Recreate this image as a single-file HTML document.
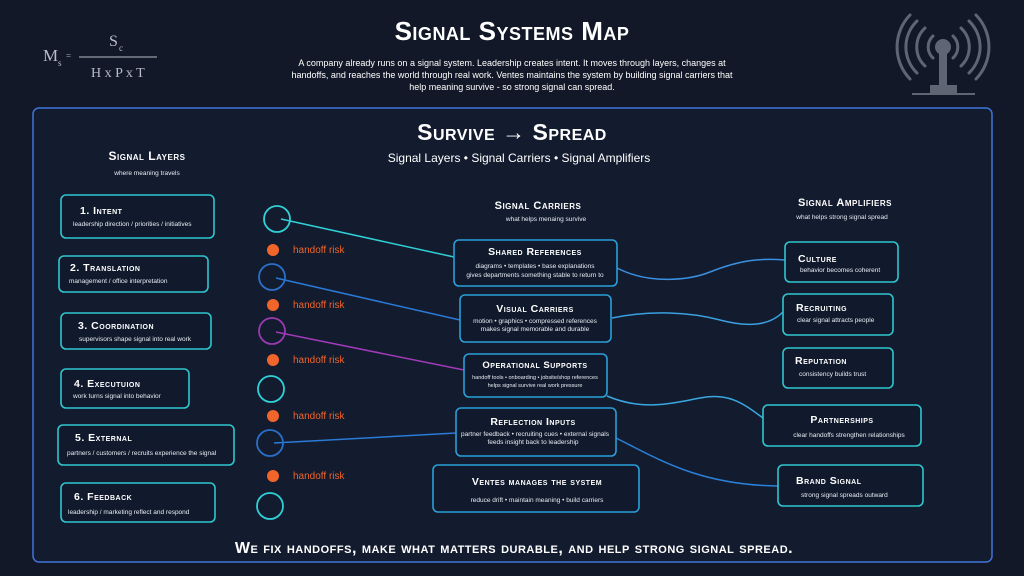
<!DOCTYPE html>
<html><head><meta charset="utf-8"><style>
html,body{margin:0;padding:0;background:#121828;}
svg{display:block}
text{font-family:"Liberation Sans",sans-serif;fill:#fff}
.h{font-weight:bold;font-variant:small-caps;letter-spacing:0.5px}
.s{font-size:6.5px;fill:#e8ecf4}
.box{fill:#111a2c;stroke:#2fc6cf;stroke-width:1.6}
.risk{font-size:10px;fill:#f0652a}
.f{font-family:"Liberation Serif",serif;fill:#b8bcc6}
</style></head><body>
<svg width="1024" height="576" viewBox="0 0 1024 576">
<rect width="1024" height="576" fill="#121828"/>
<!-- formula -->
<text x="43" y="61" font-size="17" class="f" style="font-family:'Liberation Serif',serif">M</text>
<text x="58" y="66" font-size="9" class="f" style="font-family:'Liberation Serif',serif">s</text>
<text x="66" y="59" font-size="9" class="f" style="font-family:'Liberation Serif',serif">=</text>
<text x="109" y="46" font-size="16" class="f" style="font-family:'Liberation Serif',serif">S</text>
<text x="119" y="51" font-size="9" class="f" style="font-family:'Liberation Serif',serif">c</text>
<line x1="79" y1="57" x2="157" y2="57" stroke="#b8bcc6" stroke-width="1"/>
<text x="91" y="77" font-size="14" class="f" style="font-family:'Liberation Serif',serif">H x P x T</text>
<!-- antenna -->
<g stroke="#5f6573" fill="none" stroke-width="3" stroke-linecap="round">
<path d="M933 36 A15 15 0 0 0 933 58"/><path d="M953 36 A15 15 0 0 1 953 58"/>
<path d="M925 28 A26 26 0 0 0 925 66"/><path d="M961 28 A26 26 0 0 1 961 66"/>
<path d="M917 21 A36 36 0 0 0 917 73"/><path d="M969 21 A36 36 0 0 1 969 73"/>
<path d="M910 15 A46 46 0 0 0 910 79"/><path d="M976 15 A46 46 0 0 1 976 79"/>
</g>
<circle cx="943" cy="47" r="8" fill="#5f6573"/>
<rect x="939" y="52" width="8" height="34" fill="#5f6573"/>
<rect x="930" y="85" width="27" height="9" fill="#5f6573"/>
<rect x="912" y="93" width="63" height="2" fill="#5f6573"/>
<!-- title -->
<text x="512" y="40" text-anchor="middle" class="h" font-size="26">Signal Systems Map</text>
<g font-size="9" fill="#fff" text-anchor="middle">
<text x="512" y="66" font-size="9">A company already runs on a signal system.  Leadership creates intent.  It moves through layers, changes at</text>
<text x="512" y="78" font-size="9">handoffs, and reaches the world through real work.  Ventes maintains the system by building signal carriers that</text>
<text x="512" y="90" font-size="9">help meaning survive - so strong signal can spread.</text>
</g>
<!-- panel -->
<rect x="33" y="108" width="959" height="454" rx="6" fill="#131b2e" stroke="#3f74d8" stroke-width="1.5"/>
<text x="512" y="140" text-anchor="middle" class="h" font-size="23">Survive → Spread</text>
<text x="519" y="162" text-anchor="middle" font-size="12" fill="#e8ecf4">Signal Layers • Signal Carriers • Signal Amplifiers</text>
<text x="147" y="160" text-anchor="middle" class="h" font-size="12">Signal Layers</text>
<text x="147" y="175" text-anchor="middle" class="s">where meaning travels</text>
<text x="538" y="209" text-anchor="middle" class="h" font-size="11">Signal Carriers</text>
<text x="546" y="221" text-anchor="middle" class="s">what helps menaing survive</text>
<text x="845" y="206" text-anchor="middle" class="h" font-size="11">Signal Amplifiers</text>
<text x="842" y="219" text-anchor="middle" class="s">what helps strong signal spread</text>
<!-- connectors -->
<g fill="none" stroke-width="1.5">
<line x1="281" y1="219" x2="454" y2="257" stroke="#2fd0d6"/>
<line x1="276" y1="278" x2="460" y2="320" stroke="#2a7ad6"/>
<line x1="276" y1="332" x2="464" y2="370" stroke="#a03ab8"/>
<line x1="274" y1="443" x2="456" y2="433" stroke="#2a7ad6"/>
<path d="M617 268 C650 285,690 280,710 272 C740 260,760 258,785 260" stroke="#3a90e0"/>
<path d="M612 318 C650 310,690 312,720 320 C750 328,770 325,783 312" stroke="#3aa0e0"/>
<path d="M607 396 C640 410,665 405,700 398 C730 392,745 405,763 418" stroke="#3aa8e0"/>
<path d="M616 438 C660 460,700 485,778 486" stroke="#2a80d8"/>
</g>
<!-- circles -->
<g fill="none" stroke-width="1.8">
<circle cx="277" cy="219" r="13" stroke="#2fd0d6"/>
<circle cx="272" cy="277" r="13" stroke="#2a6fc8"/>
<circle cx="272" cy="331" r="13" stroke="#9a3ab0"/>
<circle cx="271" cy="389" r="13" stroke="#2fd0d6"/>
<circle cx="270" cy="443" r="13" stroke="#2a6fc8"/>
<circle cx="270" cy="506" r="13" stroke="#2fd0d6"/>
</g>
<g fill="#f0652a">
<circle cx="273" cy="250" r="6"/><circle cx="273" cy="305" r="6"/><circle cx="273" cy="360" r="6"/><circle cx="273" cy="416" r="6"/><circle cx="273" cy="476" r="6"/>
</g>
<text x="293" y="253" class="risk">handoff risk</text>
<text x="293" y="308" class="risk">handoff risk</text>
<text x="293" y="363" class="risk">handoff risk</text>
<text x="293" y="419" class="risk">handoff risk</text>
<text x="293" y="479" class="risk">handoff risk</text>
<!-- left boxes -->
<rect class="box" x="61" y="195" width="153" height="43" rx="5"/>
<text x="80" y="214" class="h" font-size="10.5">1. Intent</text>
<text x="73" y="226" class="s">leadership direction / priorities / initiatives</text>
<rect class="box" x="59" y="256" width="149" height="36" rx="5"/>
<text x="70" y="271" class="h" font-size="10.5">2. Translation</text>
<text x="69" y="283" class="s">management / office interpretation</text>
<rect class="box" x="61" y="313" width="150" height="36" rx="5"/>
<text x="78" y="329" class="h" font-size="10.5">3. Coordination</text>
<text x="79" y="341" class="s">supervisors shape signal into real work</text>
<rect class="box" x="61" y="369" width="128" height="39" rx="5"/>
<text x="74" y="387" class="h" font-size="10.5">4. Executuion</text>
<text x="73" y="398" class="s">work turns signal into behavior</text>
<rect class="box" x="58" y="425" width="176" height="40" rx="5"/>
<text x="75" y="441" class="h" font-size="10.5">5. External</text>
<text x="67" y="455" class="s">partners / customers / recruits experience the signal</text>
<rect class="box" x="61" y="483" width="154" height="39" rx="5"/>
<text x="74" y="500" class="h" font-size="10.5">6. Feedback</text>
<text x="68" y="514" class="s">leadership / marketing reflect and respond</text>
<!-- middle boxes -->
<rect class="box" x="454" y="240" width="163" height="46" rx="5" style="stroke:#2a9fd8"/>
<text x="535" y="255" text-anchor="middle" class="h" font-size="10.5">Shared References</text>
<text x="535" y="268" text-anchor="middle" class="s">diagrams • templates • base explanations</text>
<text x="535" y="277" text-anchor="middle" class="s">gives departments something stable to return to</text>
<rect class="box" x="460" y="295" width="151" height="47" rx="5" style="stroke:#2a9fd8"/>
<text x="535" y="312" text-anchor="middle" class="h" font-size="10.5">Visual Carriers</text>
<text x="535" y="323" text-anchor="middle" class="s">motion • graphics • compressed references</text>
<text x="535" y="331" text-anchor="middle" class="s">makes signal memorable and durable</text>
<rect class="box" x="464" y="354" width="143" height="43" rx="5" style="stroke:#2a9fd8"/>
<text x="535" y="368" text-anchor="middle" class="h" font-size="9.5">Operational Supports</text>
<text x="535" y="379" text-anchor="middle" class="s" style="font-size:5.5px">handoff tools • onboarding • jobsite/shop references</text>
<text x="535" y="387" text-anchor="middle" class="s" style="font-size:5.5px">helps signal survive real work pressure</text>
<rect class="box" x="456" y="408" width="160" height="48" rx="5" style="stroke:#2a9fd8"/>
<text x="533" y="425" text-anchor="middle" class="h" font-size="10.5">Reflection Inputs</text>
<text x="535" y="436" text-anchor="middle" class="s">partner feedback • recruiting cues • external signals</text>
<text x="533" y="444" text-anchor="middle" class="s">feeds insight back to leadership</text>
<rect class="box" x="433" y="465" width="206" height="47" rx="5" style="stroke:#2a9fd8"/>
<text x="537" y="485" text-anchor="middle" class="h" font-size="10.5">Ventes manages the system</text>
<text x="537" y="502" text-anchor="middle" class="s">reduce drift • maintain meaning • build carriers</text>
<!-- right boxes -->
<rect class="box" x="785" y="242" width="113" height="40" rx="5"/>
<text x="798" y="262" class="h" font-size="10.5">Culture</text>
<text x="800" y="272" class="s">behavior becomes coherent</text>
<rect class="box" x="783" y="294" width="110" height="41" rx="5"/>
<text x="796" y="311" class="h" font-size="10.5">Recruiting</text>
<text x="797" y="322" class="s">clear signal attracts people</text>
<rect class="box" x="783" y="348" width="110" height="40" rx="5"/>
<text x="795" y="364" class="h" font-size="10.5">Reputation</text>
<text x="799" y="376" class="s">consistency builds trust</text>
<rect class="box" x="763" y="405" width="158" height="41" rx="5"/>
<text x="842" y="423" text-anchor="middle" class="h" font-size="10.5">Partnerships</text>
<text x="849" y="437" text-anchor="middle" class="s">clear handoffs strengthen relationships</text>
<rect class="box" x="778" y="465" width="145" height="41" rx="5"/>
<text x="796" y="484" class="h" font-size="10.5">Brand Signal</text>
<text x="801" y="497" class="s">strong signal spreads outward</text>
<text x="514" y="553" text-anchor="middle" class="h" font-size="16" letter-spacing="0.8">We fix handoffs, make what matters durable, and help strong signal spread.</text>
</svg>
</body></html>
